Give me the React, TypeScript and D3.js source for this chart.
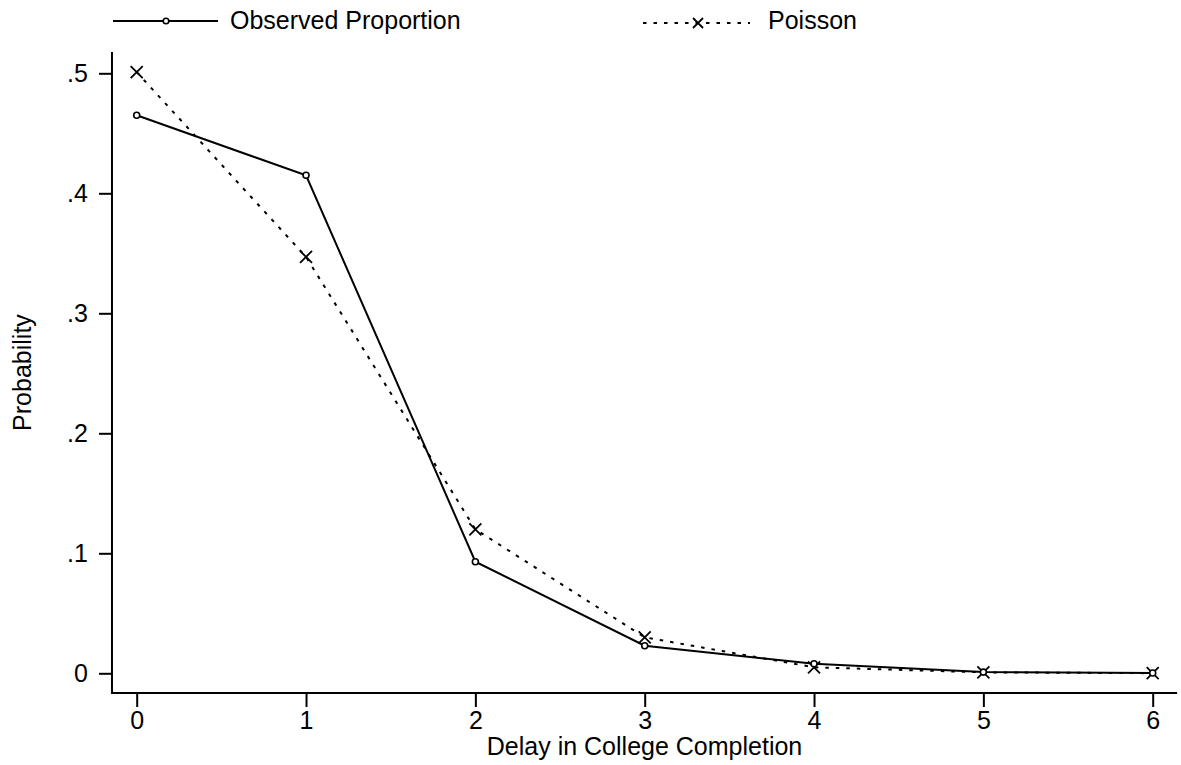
import { useEffect, useRef } from 'react'
import * as d3 from 'd3'

const W = 1181, H = 765
const FONT = '"Liberation Sans", Arial, sans-serif'

// ── data ────────────────────────────────────────────────────────────────
const DELAYS    = [0, 1, 2, 3, 4, 5, 6]
const OBSERVED  = [0.465, 0.415, 0.093, 0.023, 0.008, 0.001, 0.0003]
const POISSON   = [0.501, 0.347, 0.120, 0.030, 0.005, 0.0008, 0.0001]
const Y_TICKS   = [0, 0.1, 0.2, 0.3, 0.4, 0.5]
const Y_LABELS  = ['0', '.1', '.2', '.3', '.4', '.5']

// plot extents (axis lines run a bit past the outer ticks)
const X_EXT = [-0.146, 6.144]
const Y_EXT = [-0.0164, 0.5177]

const DASH = '3.5 7'

export default function App() {
  const svgRef = useRef<SVGSVGElement>(null)

  useEffect(() => {
    const svg = d3.select(svgRef.current!)
    svg.selectAll('*').remove()

    const x = d3.scaleLinear().domain([0, 6]).range([136.7, 1152.7])
    const y = d3.scaleLinear().domain([0, 0.5]).range([673.3, 73.3])

    const x0 = x(X_EXT[0]), x1 = x(X_EXT[1])
    const y0 = y(Y_EXT[0]), y1 = y(Y_EXT[1])

    // ── axes ──────────────────────────────────────────────────────────
    svg.append('line')
      .attr('x1', x0).attr('x2', x0).attr('y1', y1).attr('y2', y0)
      .attr('stroke', '#000').attr('stroke-width', 2)
    svg.append('line')
      .attr('x1', x0 - 1).attr('x2', x1).attr('y1', y0).attr('y2', y0)
      .attr('stroke', '#000').attr('stroke-width', 2)

    svg.append('g')
      .attr('transform', `translate(${x0},0)`)
      .call(d3.axisLeft(y).tickValues(Y_TICKS)
        .tickFormat((_, i) => Y_LABELS[i]).tickSize(13).tickPadding(11))
      .call(ax => {
        ax.select('.domain').remove()
        ax.selectAll('.tick line').attr('stroke', '#000').attr('stroke-width', 2)
        ax.selectAll('.tick text')
          .attr('font-size', 25).attr('font-family', FONT).attr('fill', '#000')
      })

    svg.append('g')
      .attr('transform', `translate(0,${y0})`)
      .call(d3.axisBottom(x).tickValues(DELAYS)
        .tickFormat(d => String(d)).tickSize(14).tickPadding(4))
      .call(ax => {
        ax.select('.domain').remove()
        ax.selectAll('.tick line').attr('stroke', '#000').attr('stroke-width', 2)
        ax.selectAll('.tick text')
          .attr('font-size', 25).attr('font-family', FONT).attr('fill', '#000')
      })

    svg.append('text')
      .attr('x', (x0 + x1) / 2).attr('y', 755)
      .attr('text-anchor', 'middle').attr('font-size', 25)
      .attr('font-family', FONT).attr('fill', '#000')
      .text('Delay in College Completion')

    svg.append('text')
      .attr('transform', `translate(31,${(y0 + y1) / 2}) rotate(-90)`)
      .attr('text-anchor', 'middle').attr('font-size', 25)
      .attr('font-family', FONT).attr('fill', '#000')
      .text('Probability')

    // ── series ────────────────────────────────────────────────────────
    const line = d3.line<number>().x((_, i) => x(DELAYS[i])).y(d => y(d))

    svg.append('path').attr('d', line(POISSON))
      .attr('fill', 'none').attr('stroke', '#000')
      .attr('stroke-width', 2).attr('stroke-dasharray', DASH)

    svg.append('path').attr('d', line(OBSERVED))
      .attr('fill', 'none').attr('stroke', '#000').attr('stroke-width', 2)

    const cross = (g: d3.Selection<SVGGElement, unknown, null, undefined>, cx: number, cy: number, s = 6) => {
      g.append('path')
        .attr('d', `M${cx - s},${cy - s}L${cx + s},${cy + s}M${cx - s},${cy + s}L${cx + s},${cy - s}`)
        .attr('stroke', '#000').attr('stroke-width', 1.8).attr('fill', 'none')
    }

    const marks = svg.append('g')
    POISSON.forEach((v, i) => cross(marks, x(DELAYS[i]), y(v)))
    OBSERVED.forEach((v, i) => {
      marks.append('circle')
        .attr('cx', x(DELAYS[i])).attr('cy', y(v)).attr('r', 3)
        .attr('fill', '#fff').attr('stroke', '#000').attr('stroke-width', 1.6)
    })

    // ── legend ────────────────────────────────────────────────────────
    const lg = svg.append('g')
    const ly = 21
    lg.append('line').attr('x1', 113).attr('x2', 218).attr('y1', ly).attr('y2', ly)
      .attr('stroke', '#000').attr('stroke-width', 2)
    lg.append('circle').attr('cx', 166).attr('cy', ly).attr('r', 2.8)
      .attr('fill', '#fff').attr('stroke', '#000').attr('stroke-width', 1.6)
    lg.append('text').attr('x', 230).attr('y', 29)
      .attr('font-size', 25).attr('font-family', FONT).attr('fill', '#000')
      .text('Observed Proportion')

    lg.append('line').attr('x1', 643).attr('x2', 750).attr('y1', ly + 2).attr('y2', ly + 2)
      .attr('stroke', '#000').attr('stroke-width', 2).attr('stroke-dasharray', DASH)
    cross(lg, 698, ly + 2, 5)
    lg.append('text').attr('x', 768).attr('y', 29)
      .attr('font-size', 25).attr('font-family', FONT).attr('fill', '#000')
      .text('Poisson')
  }, [])

  return (
    <svg
      ref={svgRef}
      width={W}
      height={H}
      viewBox={`0 0 ${W} ${H}`}
      style={{ position: 'absolute', left: 0, top: 0, background: '#fff' }}
    />
  )
}
